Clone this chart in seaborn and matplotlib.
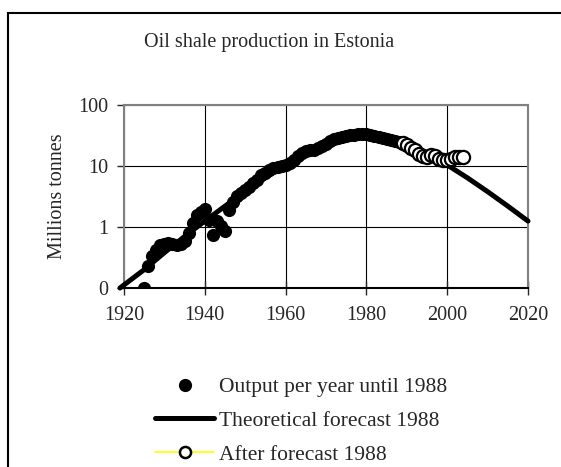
import numpy as np
import pandas as pd
import matplotlib.pyplot as plt
import matplotlib.patches as patches
from matplotlib.lines import Line2D
import seaborn as sns

# Output per year until 1988 (million tonnes)
years_hist = list(range(1925, 1989))
output_hist = [0.1, 0.23, 0.33, 0.42, 0.5, 0.53, 0.55, 0.53, 0.5, 0.52,
               0.58, 0.8, 1.15, 1.55, 1.75, 2.0, 1.3, 0.75, 1.25, 1.05,
               0.85, 1.9, 2.6, 3.2, 3.6, 4.0, 4.5, 5.2, 6.0, 7.0,
               7.8, 8.5, 9.3, 9.7, 10.0, 10.2, 11.0, 12.5, 14.5, 16.5,
               17.5, 18.0, 18.5, 19.5, 21.0, 23.0, 25.5, 27.5, 29.0, 30.0,
               31.0, 32.0, 32.5, 33.0, 33.0, 33.0, 32.0, 31.0, 30.0, 29.0,
               28.0, 27.0, 26.0, 25.0]

# Theoretical forecast 1988
years_fc = [1919, 1925, 1930, 1935, 1940, 1945, 1950, 1955, 1960, 1965, 1970,
            1975, 1980, 1985, 1990, 1995, 2000, 2005, 2010, 2015, 2020]
output_fc = [0.1, 0.2, 0.38, 0.7, 1.25, 2.2, 3.8, 6.4, 10.4, 16.0, 22.5,
             28.0, 30.0, 28.0, 22.5, 16.0, 10.4, 6.4, 3.8, 2.2, 1.25]

# After forecast 1988
years_after = list(range(1989, 2005))
output_after = [24.0, 22.5, 20.0, 18.0, 15.5, 14.5, 14.0, 15.0, 14.5, 13.0,
                12.5, 12.5, 13.0, 14.0, 14.2, 14.0]

hist_df = pd.DataFrame({"year": years_hist, "output": output_hist})
fc_df = pd.DataFrame({"year": years_fc, "output": output_fc})
after_df = pd.DataFrame({"year": years_after, "output": output_after})

sns.set_style("white")
plt.rcParams['font.family'] = ['Liberation Serif', 'DejaVu Serif']

W, H = 561, 467
fig = plt.figure(figsize=(W / 100, H / 100), dpi=100)
ax = fig.add_axes([124 / W, 1 - 288 / H, (528 - 124) / W, (288 - 105) / H])

sns.scatterplot(data=hist_df, x="year", y="output", ax=ax, color="black",
                s=90, linewidth=0, zorder=3)
sns.lineplot(data=fc_df, x="year", y="output", ax=ax, color="black",
             linewidth=3.6, zorder=4, clip_on=False)
ax.plot(after_df["year"], after_df["output"], color="yellow", linewidth=1,
        marker="o", markersize=9.5, markerfacecolor="white",
        markeredgecolor="black", markeredgewidth=1.6, zorder=5)

ax.set_yscale("log")
ax.set_ylim(0.1, 100)
ax.set_xlim(1920, 2020)
ax.set_yticks([0.1, 1, 10, 100])
ax.set_yticklabels(["0", "1", "10", "100"])
ax.yaxis.set_minor_locator(plt.NullLocator())
ax.set_xticks(range(1920, 2021, 20))
ax.grid(True, color="black", linewidth=0.8)
ax.set_axisbelow(True)
for side in ["top", "right", "left"]:
    ax.spines[side].set_color("#808080")
    ax.spines[side].set_linewidth(1.5)
ax.spines["bottom"].set_color("black")
ax.spines["bottom"].set_linewidth(1.5)
ax.tick_params(axis="y", length=5, width=1, pad=6, labelsize=14.5, left=True)
ax.tick_params(axis="x", direction="inout", length=10, width=1, pad=8,
               labelsize=14.5, bottom=True)
ax.set_xlabel("")
ax.set_ylabel("Millions tonnes", fontsize=14.5)
ax.yaxis.set_label_coords((67 - 124) / (528 - 124), 0.5)

fig.text(269 / W, 1 - 43 / H, "Oil shale production in Estonia",
         ha="center", va="center", fontsize=14.5)

# outer frame
fig.patches.append(patches.Rectangle((8 / W, -0.1), 2, 1 - 13 / H + 0.1,
                                     transform=fig.transFigure, fill=False,
                                     edgecolor="black", linewidth=1.5))

handles = [
    Line2D([], [], linestyle="none", marker="o", color="black", markersize=8.5),
    Line2D([], [], color="black", linewidth=3.6),
    Line2D([], [], color="yellow", linewidth=1.2, marker="o", markersize=8,
           markerfacecolor="white", markeredgecolor="black", markeredgewidth=1.8),
]
labels = ["Output per year until 1988", "Theoretical forecast 1988",
          "After forecast 1988"]
fig.legend(handles, labels, loc="upper left", bbox_to_anchor=(155 / W, 1 - 377 / H),
           frameon=False, fontsize=15.5, handlelength=2.75, handletextpad=0.2,
           labelspacing=0.64, borderpad=0, borderaxespad=0)

fig.savefig("out.png", dpi=100)
